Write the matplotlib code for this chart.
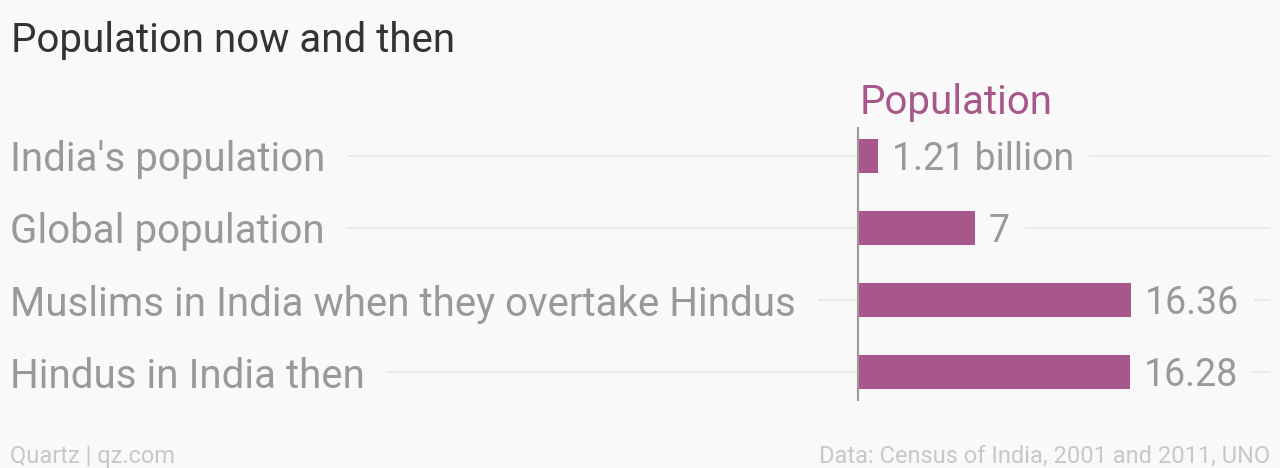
import matplotlib
matplotlib.use("Agg")
import matplotlib.pyplot as plt
import matplotlib.transforms as mtransforms

categories = ["India's population", "Global population",
              "Muslims in India when they overtake Hindus", "Hindus in India then"]
values = [1.21, 7, 16.36, 16.28]
value_labels = ["1.21 billion", "7", "16.36", "16.28"]
series_name = "Population"
title = "Population now and then"
credit = "Quartz | qz.com"
source = "Data: Census of India, 2001 and 2011, UNO"

BG = "#f9f9f9"
BAR = "#a8578a"
LABEL = "#999999"
FONT = "Roboto"

W, H = 1280, 468
fig = plt.figure(figsize=(W / 100, H / 100), dpi=100, facecolor=BG)
ax = fig.add_axes([858 / W, 1 - 400 / H, (1270 - 858) / W, (400 - 128) / H])
ax.set_facecolor("none")

y = list(range(len(categories)))
ax.barh(y, values, height=0.47, color=BAR, zorder=3)
ax.set_xlim(0, 412 / 16.69)
ax.set_ylim(3 + 28 / 72, -28 / 72)
for s in ["top", "right", "bottom"]:
    ax.spines[s].set_visible(False)
ax.spines["left"].set_color("#9a9a9a")
ax.spines["left"].set_linewidth(1.5)
ax.spines["left"].set_zorder(4)
ax.set_xticks([])
ax.set_yticks([])

blend = mtransforms.blended_transform_factory(fig.transFigure, ax.transData)
for yi in y:
    ax.plot([10 / W, 1270 / W], [yi, yi], transform=blend, color="#e6e6e6",
            lw=1.2, zorder=1, clip_on=False)

for yi, cat in zip(y, categories):
    ax.text(10 / W, yi, cat, transform=blend, ha="left", va="center_baseline",
            fontsize=29, color=LABEL, family=FONT, zorder=2,
            bbox=dict(facecolor=BG, edgecolor="none", boxstyle="square,pad=0.55"))
for yi, v, lab in zip(y, values, value_labels):
    ax.annotate(lab, (v, yi), xytext=(10, 0), textcoords="offset points",
                ha="left", va="center_baseline", fontsize=27, color=LABEL,
                family=FONT, zorder=2,
                bbox=dict(facecolor=BG, edgecolor="none", boxstyle="square,pad=0.4"))

fig.text(860 / W, 1 - 98 / H, series_name, ha="left", va="center_baseline",
         fontsize=29, color=BAR, family=FONT)
fig.text(11 / W, 1 - 37 / H, title, ha="left", va="center_baseline",
         fontsize=29, color="#333333", family=FONT)
fig.text(10 / W, 1 - 454 / H, credit, ha="left", va="center_baseline",
         fontsize=17, color="#c8c8c8", family=FONT)
fig.text(1270 / W, 1 - 454 / H, source, ha="right", va="center_baseline",
         fontsize=17, color="#c8c8c8", family=FONT)

fig.savefig("out.png", dpi=100, facecolor=BG)
